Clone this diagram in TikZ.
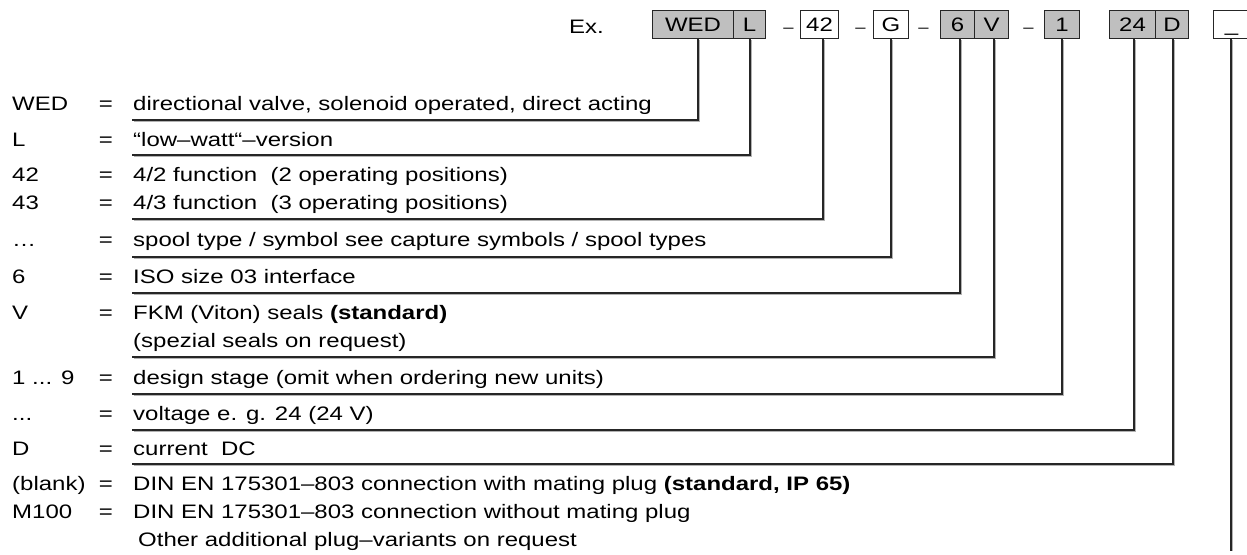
\documentclass[tikz,border=0pt]{standalone}
\usepackage{fontspec}
\setmainfont[FakeStretch=1.23]{Liberation Sans}
\begin{document}
\begin{tikzpicture}[x=1pt,y=-1pt,
  every node/.style={font=\fontsize{19.5}{28}\selectfont, inner sep=0pt},
  cbox/.style={draw=black!85, line width=1.1pt, minimum height=28pt, anchor=north west, text height=14pt, text depth=0pt},
  gbox/.style={cbox, fill=black!25},
  wbox/.style={cbox, fill=white},
  txt/.style={anchor=base west},
  sep/.style={anchor=base, font=\fontsize{15}{15}\selectfont},
  conn/.style={draw=black!85, line width=1.2pt, line cap=rect,
     preaction={draw=black!30, line width=1.2pt, transform canvas={shift={(0.9pt,-0.9pt)}}}}
]
\useasboundingbox (0,0) rectangle (1247,554);

% ---- code boxes ----
\node[txt] (ex) at (569,33) {Ex.};
\node[gbox, minimum width=81pt] (wed) at (652,10) {WED};
\node[gbox, minimum width=32pt] (l) at (733,10) {L};
\node[sep] (d1) at (788.5,32) {–};
\node[wbox, minimum width=38pt] (b42) at (800,10) {42};
\node[sep] (d2) at (860.5,32) {–};
\node[wbox, minimum width=35pt] (g) at (873,10) {G};
\node[sep] (d3) at (923.5,32) {–};
\node[gbox, minimum width=34pt] (six) at (940,10) {6};
\node[gbox, minimum width=34pt] (v) at (974,10) {V};
\node[sep] (d4) at (1028.5,32) {–};
\node[gbox, minimum width=35pt] (one) at (1044,10) {1};
\node[gbox, minimum width=46pt] (b24) at (1109,10) {24};
\node[gbox, minimum width=33pt] (d) at (1155,10) {D};
\node[wbox, minimum width=36pt] (bl) at (1213,10) {\_};

% ---- legend keys ----
\node[txt] (k1) at (12,110) {WED};
\node[txt] (k2) at (12,146) {L};
\node[txt] (k3) at (12,181) {42};
\node[txt] (k4) at (12,209) {43};
\node[txt] (k5) at (12,246) {…};
\node[txt] (k6) at (12,283) {6};
\node[txt] (k7) at (12,319) {V};
\node[txt] (k8) at (12,384) {1 ... 9};
\node[txt] (k9) at (12,420) {...};
\node[txt] (k10) at (12,455) {D};
\node[txt] (k11) at (12,490) {(blank)};
\node[txt] (k12) at (12,518) {M100};

\foreach \yy in {110,146,181,209,246,283,319,384,420,455,490,518}
  \node[anchor=base] at (106,\yy) {=};

% ---- descriptions ----
\node[txt] (t1) at (133,110) {directional valve, solenoid operated, direct acting};
\node[txt] (t2) at (133,146) {“low–watt“–version};
\node[txt] (t3) at (133,181) {4/2 function\ \ (2 operating positions)};
\node[txt] (t4) at (133,209) {4/3 function\ \ (3 operating positions)};
\node[txt] (t5) at (133,246) {spool type / symbol see capture symbols / spool types};
\node[txt] (t6) at (133,283) {ISO size 03 interface};
\node[txt] (t7) at (133,319) {FKM (Viton) seals \textbf{(standard)}};
\node[txt] (t7b) at (133,347) {(spezial seals on request)};
\node[txt] (t8) at (133,384) {design stage (omit when ordering new units)};
\node[txt] (t9) at (133,420) {voltage e. g. 24 (24 V)};
\node[txt] (t10) at (133,455) {current\ \ DC};
\node[txt] (t11) at (133,490) {DIN EN 175301–803 connection with mating plug \textbf{(standard, IP 65)}};
\node[txt] (t12) at (133,518) {DIN EN 175301–803 connection without mating plug};
\node[txt] (t13) at (138,546) {Other additional plug–variants on request};

% ---- connector columns and underline ends ----
\coordinate (x1) at (698,0);
\coordinate (x2) at (750,0);
\coordinate (x3) at (823,0);
\coordinate (x4) at (891,0);
\coordinate (x5) at (960,0);
\coordinate (x6) at (994,0);
\coordinate (x7) at (1062,0);
\coordinate (x8) at (1134,0);
\coordinate (x9) at (1173,0);
\coordinate (x10) at (1231,0);

\coordinate (u1) at (133,120);
\coordinate (u2) at (133,155);
\coordinate (u3) at (133,219);
\coordinate (u4) at (133,257);
\coordinate (u5) at (133,293);
\coordinate (u6) at (133,357);
\coordinate (u7) at (133,394);
\coordinate (u8) at (133,430);
\coordinate (u9) at (133,464);
\coordinate (e10) at (1231,550);

\draw[conn] (x1 |- wed.south) |- (u1);
\draw[conn] (x2 |- l.south) |- (u2);
\draw[conn] (x3 |- b42.south) |- (u3);
\draw[conn] (x4 |- g.south) |- (u4);
\draw[conn] (x5 |- six.south) |- (u5);
\draw[conn] (x6 |- v.south) |- (u6);
\draw[conn] (x7 |- one.south) |- (u7);
\draw[conn] (x8 |- b24.south) |- (u8);
\draw[conn] (x9 |- d.south) |- (u9);
\draw[conn] (x10 |- bl.south) -- (e10);
\end{tikzpicture}
\end{document}
